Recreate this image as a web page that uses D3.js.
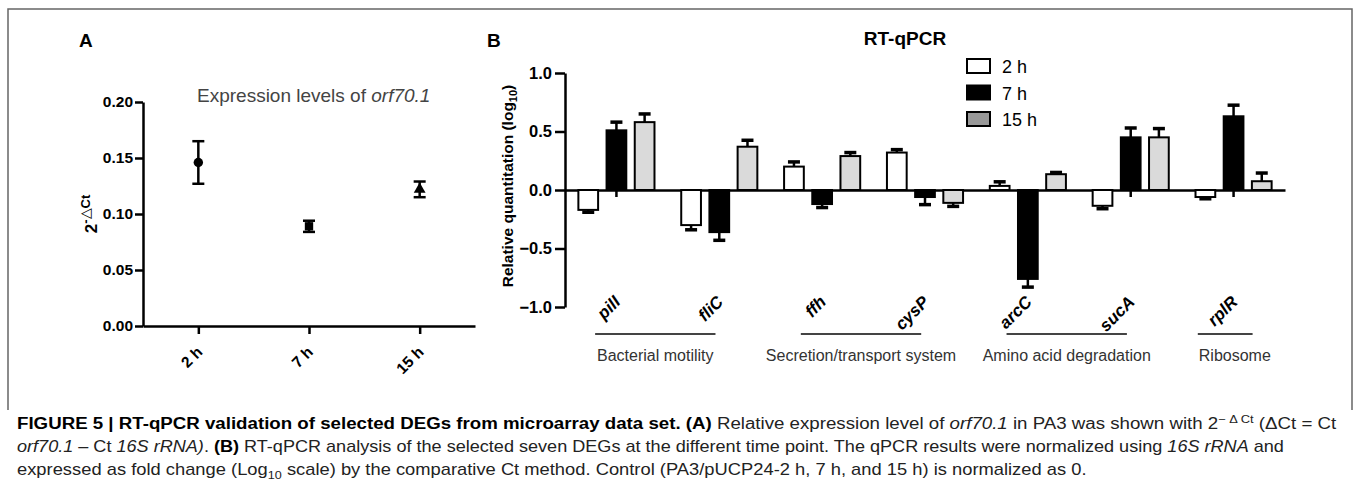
<!DOCTYPE html>
<meta charset="utf-8">
<html>
<head>
  <script src="https://d3js.org/d3.v7.min.js" charset="utf-8"></script>
  <style>
    body { margin: 0; background: #fff; }
    svg text { font-family: Arial, 'Liberation Sans', sans-serif; }
    .ax path, .ax line { stroke: #000; stroke-width: 2.5; }
    .ax text { font-size: 15px; font-weight: bold; fill: #000; }
  </style>
</head>
<body>
<script>
  //Panel A data
  var timePoints = ['2 h', '7 h', '15 h'];
  var orfMean = [0.146, 0.089, 0.122];
  var orfErr = [0.019, 0.005, 0.007];
  var aTicks = [0, 0.05, 0.10, 0.15, 0.20];

  //Panel B data
  var genes = ['pilI', 'fliC', 'ffh', 'cysP', 'arcC', 'sucA', 'rplR'];
  var series = ['2 h', '7 h', '15 h'];
  var val2h = [-0.17, -0.30, 0.20, 0.32, 0.035, -0.135, -0.06];
  var err2h = [0.02, 0.04, 0.04, 0.025, 0.035, 0.025, 0.015];
  var val7h = [0.51, -0.36, -0.12, -0.06, -0.76, 0.45, 0.63];
  var err7h = [0.07, 0.07, 0.03, 0.065, 0.07, 0.08, 0.095];
  var val15h = [0.58, 0.37, 0.29, -0.11, 0.135, 0.45, 0.075];
  var err15h = [0.07, 0.055, 0.03, 0.03, 0.015, 0.075, 0.07];
  var bTicks = [-1.0, -0.5, 0.0, 0.5, 1.0];
  var categories = ['Bacterial motility', 'Secretion/transport system', 'Amino acid degradation', 'Ribosome'];
  var categoryFirst = ['pilI', 'ffh', 'arcC', 'rplR'];
  var categoryLast = ['fliC', 'cysP', 'sucA', 'rplR'];

  var W = 1357, H = 488;
  var svg = d3.select('body').append('svg')
    .attr('width', W)
    .attr('height', H);

  //Frame around the figure
  svg.append('path')
    .attr('d', 'M8,410V9H1352V410')
    .attr('fill', 'none')
    .attr('stroke', '#666')
    .attr('stroke-width', 1.5);

  //Panel letters
  svg.append('text').attr('x', 79).attr('y', 47).text('A')
    .style('font-size', '19px').style('font-weight', 'bold');
  svg.append('text').attr('x', 487).attr('y', 47).text('B')
    .style('font-size', '19px').style('font-weight', 'bold');

  // ---------- Panel A ----------
  var xa = d3.scalePoint().domain(timePoints).range([143, 475]).padding(0.5);
  var ya = d3.scaleLinear().domain([0, 0.2]).range([326, 102]);

  svg.append('g')
    .attr('class', 'ax')
    .attr('transform', 'translate(143,0)')
    .call(d3.axisLeft(ya).tickValues(aTicks).tickFormat(d3.format('.2f'))
      .tickSize(8).tickSizeOuter(0).tickPadding(2))
    .selectAll('text').style('font-size', '15.5px');

  svg.append('g')
    .attr('class', 'ax')
    .attr('transform', 'translate(0,326)')
    .call(d3.axisBottom(xa).tickSize(8).tickSizeOuter(0).tickFormat(''));

  svg.selectAll('.alab')
    .data(timePoints)
    .enter()
    .append('text')
    .attr('class', 'alab')
    .attr('transform', d => `translate(${xa(d) + 5},353) rotate(-45)`)
    .attr('text-anchor', 'end')
    .style('font-size', '15.5px')
    .style('font-weight', 'bold')
    .text(d => d);

  //Error bars A
  var aPts = timePoints.map((t, i) => ({t: t, m: orfMean[i], e: orfErr[i], i: i}));
  var eg = svg.append('g').attr('stroke', '#000');
  aPts.forEach(function(p) {
    var cx = xa(p.t);
    eg.append('line').attr('x1', cx).attr('x2', cx)
      .attr('y1', ya(p.m - p.e)).attr('y2', ya(p.m + p.e)).attr('stroke-width', 2.5);
    [p.m - p.e, p.m + p.e].forEach(function(v) {
      eg.append('line').attr('x1', cx - 6).attr('x2', cx + 6)
        .attr('y1', ya(v)).attr('y2', ya(v)).attr('stroke-width', 2.5);
    });
  });

  var shapes = [d3.symbolCircle, d3.symbolSquare, d3.symbolTriangle];
  var sizes = [70, 70, 60];
  svg.selectAll('.mk')
    .data(aPts)
    .enter()
    .append('path')
    .attr('class', 'mk')
    .attr('d', d => d3.symbol().type(shapes[d.i]).size(sizes[d.i])())
    .attr('transform', d => `translate(${xa(d.t)},${ya(d.m)})`)
    .attr('fill', '#000');

  //Y label A
  var yla = svg.append('text')
    .attr('transform', 'translate(97,214) rotate(-90)')
    .attr('text-anchor', 'middle')
    .style('font-size', '17px')
    .style('font-weight', 'bold');
  yla.append('tspan').text('2');
  yla.append('tspan').attr('dy', -7).style('font-size', '13px').text('-');
  yla.append('tspan').style('font-size', '14px').style('font-weight', 'normal').text('\u25B3');
  yla.append('tspan').style('font-size', '13px').text('Ct');

  //Title A
  var ta = svg.append('text')
    .attr('x', 197).attr('y', 102)
    .style('font-size', '19px')
    .attr('fill', '#444');
  ta.append('tspan').text('Expression levels of ');
  ta.append('tspan').style('font-style', 'italic').text('orf70.1');

  // ---------- Panel B ----------
  var x0 = d3.scaleBand().domain(genes).range([565, 1285]).paddingInner(0.26).paddingOuter(0.13);
  var x1 = d3.scaleBand().domain(series).range([0, x0.bandwidth()]).paddingInner(0.3);
  var yb = d3.scaleLinear().domain([-1, 1]).range([307, 73]);

  svg.append('g')
    .attr('class', 'ax')
    .attr('transform', 'translate(565,0)')
    .call(d3.axisLeft(yb).tickValues(bTicks).tickFormat(d3.format('.1f'))
      .tickSize(10).tickSizeOuter(0).tickPadding(3))
    .selectAll('text').style('font-size', '16.5px');

  svg.append('g')
    .attr('class', 'ax')
    .attr('transform', `translate(0,${yb(0)})`)
    .call(d3.axisBottom(x0).tickSize(7).tickSizeOuter(0).tickFormat(''));

  var vals = [val2h, val7h, val15h];
  var errs = [err2h, err7h, err15h];
  var fills = ['#fff', '#000', '#dadada'];
  var barData = [];
  genes.forEach(function(g, gi) {
    series.forEach(function(s, si) {
      barData.push({g: g, s: s, si: si, v: vals[si][gi], e: errs[si][gi]});
    });
  });

  //Error bars B
  var eb = svg.append('g').attr('stroke', '#000');
  barData.forEach(function(d) {
    var cx = x0(d.g) + x1(d.s) + x1.bandwidth() / 2;
    var tip = d.v + (d.v < 0 ? -d.e : d.e);
    eb.append('line').attr('x1', cx).attr('x2', cx)
      .attr('y1', yb(d.v)).attr('y2', yb(tip)).attr('stroke-width', 2.5);
    eb.append('line').attr('x1', cx - 6).attr('x2', cx + 6)
      .attr('y1', yb(tip)).attr('y2', yb(tip)).attr('stroke-width', 3.5);
  });

  //Bars
  svg.selectAll('.bar')
    .data(barData)
    .enter()
    .append('rect')
    .attr('class', 'bar')
    .attr('x', d => x0(d.g) + x1(d.s))
    .attr('width', x1.bandwidth())
    .attr('y', d => yb(Math.max(0, d.v)))
    .attr('height', d => Math.abs(yb(d.v) - yb(0)))
    .attr('fill', d => fills[d.si])
    .attr('stroke', '#000')
    .attr('stroke-width', 2);

  //Gene labels
  svg.selectAll('.glab')
    .data(genes)
    .enter()
    .append('text')
    .attr('class', 'glab')
    .attr('transform', d => `translate(${x0(d) + x0.bandwidth() / 2 + 5},303) rotate(-45)`)
    .attr('text-anchor', 'end')
    .style('font-size', '17px')
    .style('font-weight', 'bold')
    .style('font-style', 'italic')
    .text(d => d);

  //Category brackets
  var bw = x0.bandwidth();
  categories.forEach(function(c, i) {
    var single = categoryFirst[i] === categoryLast[i];
    var xs = x0(categoryFirst[i]) + (single ? 0.03 : 0.22) * bw;
    var xe = x0(categoryLast[i]) + (single ? 0.75 : 0.45) * bw;
    svg.append('line')
      .attr('x1', xs).attr('x2', xe).attr('y1', 334).attr('y2', 334)
      .attr('stroke', '#444').attr('stroke-width', 2);
    svg.append('text')
      .attr('x', single ? xs + 1 : (xs + xe) / 2)
      .attr('y', 361)
      .attr('text-anchor', single ? 'start' : 'middle')
      .attr('fill', '#333')
      .style('font-size', '16px')
      .text(c);
  });

  //Y label B
  var ylb = svg.append('text')
    .attr('transform', 'translate(513,186) rotate(-90)')
    .attr('text-anchor', 'middle')
    .style('font-size', '15.5px')
    .style('font-weight', 'bold');
  ylb.append('tspan').text('Relative quantitation (log');
  ylb.append('tspan').attr('dy', 4).style('font-size', '11px').text('10');
  ylb.append('tspan').attr('dy', -4).text(')');

  //Title B
  svg.append('text')
    .attr('x', 905).attr('y', 45)
    .attr('text-anchor', 'middle')
    .style('font-size', '19px')
    .style('font-weight', 'bold')
    .text('RT-qPCR');

  //Legend
  var legFills = ['#fff', '#000', '#999'];
  series.forEach(function(s, i) {
    svg.append('rect')
      .attr('x', 967).attr('y', 59 + i * 26.5)
      .attr('width', 23).attr('height', 14)
      .attr('fill', legFills[i])
      .attr('stroke', '#000').attr('stroke-width', 2);
    svg.append('text')
      .attr('x', 1002).attr('y', 73 + i * 26.5)
      .style('font-size', '18px')
      .text(s);
  });

  // ---------- Caption ----------
  var capLines = [
    [['b', 'FIGURE 5 | RT-qPCR validation of selected DEGs from microarray data set. (A)'],
     ['n', ' Relative expression level of '], ['i', 'orf70.1'],
     ['n', ' in PA3 was shown with 2'], ['sup', '\u2212 \u0394 Ct'], ['n', ' (\u0394Ct = Ct']],
    [['i', 'orf70.1'], ['n', ' \u2013 Ct '], ['i', '16S rRNA)'], ['n', '. '], ['b', '(B)'],
     ['n', ' RT-qPCR analysis of the selected seven DEGs at the different time point. The qPCR results were normalized using '],
     ['i', '16S rRNA'], ['n', ' and']],
    [['n', 'expressed as fold change (Log'], ['sub', '10'],
     ['n', ' scale) by the comparative Ct method. Control (PA3/pUCP24-2 h, 7 h, and 15 h) is normalized as 0.']]
  ];
  var capY = [429, 452, 475];
  var capW = [1320, 1268, 1070];

  capLines.forEach(function(parts, li) {
    var t = svg.append('text')
      .attr('x', 0).attr('y', 0)
      .attr('fill', '#222')
      .style('font-size', '16px');
    var shift = 0;
    parts.forEach(function(p) {
      var sp = t.append('tspan').text(p[1]);
      if (p[0] === 'b') sp.style('font-weight', 'bold').attr('fill', '#000');
      if (p[0] === 'i') sp.style('font-style', 'italic');
      var target = p[0] === 'sup' ? -6 : p[0] === 'sub' ? 4 : 0;
      if (target !== shift) { sp.attr('dy', target - shift); shift = target; }
      if (p[0] === 'sup' || p[0] === 'sub') sp.style('font-size', '11px');
    });
    var w = t.node().getComputedTextLength();
    t.attr('transform', `translate(17,${capY[li]}) scale(${capW[li] / w},1)`);
  });
</script>
</body>
</html>
